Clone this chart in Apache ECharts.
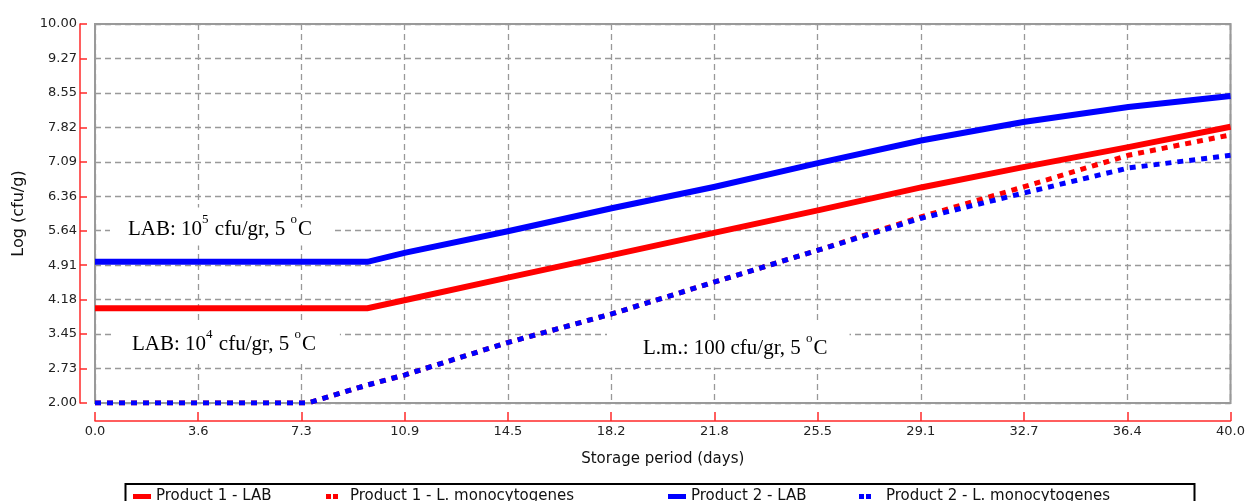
<!DOCTYPE html>
<html>
<head>
<meta charset="utf-8">
<title>Storage period growth curves</title>
<script src="https://cdn.jsdelivr.net/npm/echarts@6/dist/echarts.min.js"></script>
<style>
  html, body { margin: 0; padding: 0; background: #ffffff; }
  #chart { width: 1248px; height: 501px; }
</style>
</head>
<body>
<div id="chart"></div>
<script>
// Storage time (days) at which each curve is sampled
const days = [0, 7.5, 9.6, 10.9, 14.5, 18.2, 21.8, 25.5, 29.1, 32.7, 36.4, 40];

// Log (cfu/g) for each series, sampled at `days`
const product1LAB = [4.00, 4.00, 4.00, 4.17, 4.64, 5.12, 5.59, 6.07, 6.55, 6.98, 7.40, 7.83];
const product1LM  = [2.00, 2.00, 2.38, 2.59, 3.27, 3.88, 4.55, 5.23, 5.93, 6.56, 7.23, 7.66];
const product2LAB = [4.98, 4.98, 4.98, 5.17, 5.62, 6.11, 6.56, 7.07, 7.54, 7.93, 8.25, 8.48];
const product2LM  = [2.00, 2.00, 2.38, 2.59, 3.27, 3.88, 4.55, 5.23, 5.90, 6.43, 6.96, 7.23];

// Series names shown in the legend
const seriesNames = [
  'Product 1 - LAB',
  'Product 1 - L. monocytogenes',
  'Product 2 - LAB',
  'Product 2 - L. monocytogenes'
];

// Axis tick labels
const xTickLabels = ['0.0', '3.6', '7.3', '10.9', '14.5', '18.2', '21.8', '25.5', '29.1', '32.7', '36.4', '40.0'];
const yTickLabels = ['2.00', '2.73', '3.45', '4.18', '4.91', '5.64', '6.36', '7.09', '7.82', '8.55', '9.27', '10.00'];

const xMin = 0, xMax = 40, xStep = (xMax - xMin) / (xTickLabels.length - 1);
const yMin = 2, yMax = 10, yStep = (yMax - yMin) / (yTickLabels.length - 1);

const RED = '#ff0000';
const BLUE = '#0000ff';
const AXIS_RED = '#ff2a2a';
const LABEL_FONT = 'DejaVu Sans';
const NOTE_FONT = 'Liberation Serif';

const pairs = vals => days.map((d, i) => [d, vals[i]]);

const solidLine = color => ({ color: color, width: 6, type: 'solid', cap: 'butt', join: 'miter' });
const dottedLine = color => ({ color: color, width: 5, type: [6, 6], cap: 'butt', join: 'miter' });

function makeSeries(name, vals, color, dotted) {
  return {
    name: name,
    type: 'line',
    data: pairs(vals),
    showSymbol: false,
    symbol: 'none',
    smooth: false,
    color: color,
    lineStyle: dotted ? dottedLine(color) : solidLine(color),
    animation: false,
    z: 3
  };
}

// Rich-text annotation with superscripts on a white box
function note(x, y, parts, padding) {
  return {
    type: 'text',
    x: x,
    y: y,
    z: 20,
    style: {
      text: parts,
      fill: '#000',
      font: '21px "' + NOTE_FONT + '"',
      textAlign: 'left',
      textVerticalAlign: 'middle',
      backgroundColor: '#ffffff',
      padding: padding,
      rich: {
        n: { fontFamily: NOTE_FONT, fontSize: 21, color: '#000', lineHeight: 26, verticalAlign: 'bottom' },
        s: { fontFamily: NOTE_FONT, fontSize: 13, color: '#000', lineHeight: 26, verticalAlign: 'top', padding: [0, 1, 8, 0] }
      }
    }
  };
}

function legendItem(name, left, iconPath, iconW, textPad) {
  return {
    show: true,
    data: [{ name: name, icon: iconPath }],
    left: left,
    top: 489,
    orient: 'horizontal',
    padding: 0,
    itemWidth: iconW,
    itemHeight: 5,
    selectedMode: false,
    itemStyle: { borderWidth: 0 },
    textStyle: {
      fontFamily: LABEL_FONT,
      fontSize: 15,
      color: '#111',
      padding: [0, 0, 0, textPad]
    }
  };
}

const DOTS = 'path://M0,0h5v5h-5zM7,0h5v5h-5z';

const chart = echarts.init(document.getElementById('chart'), null, { renderer: 'canvas' });

chart.setOption({
  backgroundColor: '#ffffff',
  animation: false,
  grid: {
    left: 95,
    right: 14,
    top: 24,
    bottom: 98,
    show: true,
    borderColor: '#9a9a9a',
    borderWidth: 2,
    backgroundColor: 'transparent',
    containLabel: false
  },
  xAxis: {
    type: 'value',
    min: xMin,
    max: xMax,
    interval: xStep,
    offset: 18,
    name: 'Storage period (days)',
    nameLocation: 'middle',
    nameGap: 31,
    nameTextStyle: { fontFamily: LABEL_FONT, fontSize: 15, color: '#111' },
    axisLine: { show: true, onZero: false, lineStyle: { color: AXIS_RED, width: 1.5 } },
    axisTick: { show: true, inside: true, length: 9, lineStyle: { color: AXIS_RED, width: 1.5 } },
    axisLabel: {
      margin: 4,
      fontFamily: LABEL_FONT,
      fontSize: 13,
      color: '#222',
      showMinLabel: true,
      showMaxLabel: true,
      formatter: v => xTickLabels[Math.round((v - xMin) / xStep)]
    },
    splitLine: { show: true, lineStyle: { color: '#999999', width: 1.3, type: [6, 4] } }
  },
  yAxis: {
    type: 'value',
    min: yMin,
    max: yMax,
    interval: yStep,
    offset: 15,
    name: 'Log (cfu/g)',
    nameLocation: 'middle',
    nameGap: 53,
    nameRotate: 90,
    nameTextStyle: { fontFamily: LABEL_FONT, fontSize: 16, color: '#111' },
    axisLine: { show: true, onZero: false, lineStyle: { color: AXIS_RED, width: 1.5 } },
    axisTick: { show: true, inside: true, length: 7, lineStyle: { color: AXIS_RED, width: 1.5 } },
    axisLabel: {
      margin: 3,
      fontFamily: LABEL_FONT,
      fontSize: 13,
      color: '#222',
      showMinLabel: true,
      showMaxLabel: true,
      formatter: v => yTickLabels[Math.round((v - yMin) / yStep)]
    },
    splitLine: { show: true, lineStyle: { color: '#999999', width: 1.3, type: [6, 4] } }
  },
  legend: [
    legendItem(seriesNames[0], 133, 'rect', 18, 0),
    legendItem(seriesNames[1], 326, DOTS, 12, 7),
    legendItem(seriesNames[2], 668, 'rect', 18, 0),
    legendItem(seriesNames[3], 859, DOTS, 12, 10)
  ],
  graphic: [
    // legend frame
    {
      type: 'rect',
      z: 0,
      shape: { x: 125.5, y: 484, width: 1069, height: 40 },
      style: { fill: 'transparent', stroke: '#000', lineWidth: 2 }
    },
    note(110, 226.5, '{n|LAB: 10}{s|5}{n| cfu/gr, 5 }{s|o}{n|C}', [6, 22, 6, 18]),
    note(112, 341.5, '{n|LAB: 10}{s|4}{n| cfu/gr, 5 }{s|o}{n|C}', [7, 24, 7, 20]),
    note(607, 345.5, '{n|L.m.: 100 cfu/gr, 5 }{s|o}{n|C}', [9, 22, 9, 36])
  ],
  series: [
    makeSeries(seriesNames[0], product1LAB, RED, false),
    makeSeries(seriesNames[1], product1LM, RED, true),
    makeSeries(seriesNames[2], product2LAB, BLUE, false),
    makeSeries(seriesNames[3], product2LM, BLUE, true)
  ]
});
</script>
</body>
</html>
